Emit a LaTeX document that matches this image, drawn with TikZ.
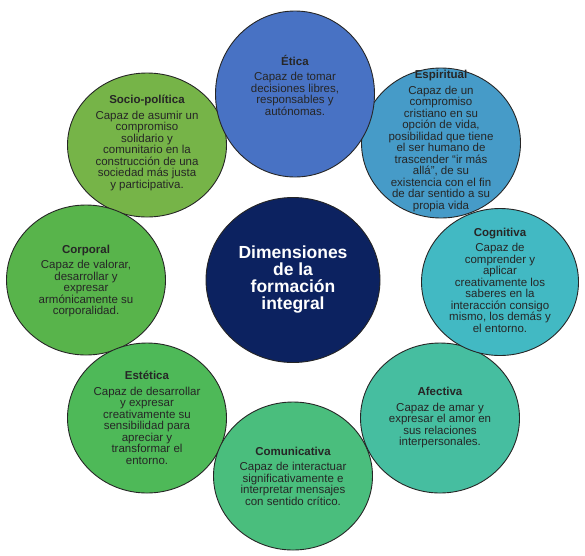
\documentclass[tikz,border=0pt]{standalone}
\usepackage{fontspec}
\setmainfont{Liberation Sans}
\usepackage{xcolor}
\usepackage{tikz}
\usetikzlibrary{shapes.geometric, positioning}

\definecolor{cEtica}{RGB}{72,114,196}
\definecolor{cEspiritual}{RGB}{70,155,200}
\definecolor{cCognitiva}{RGB}{66,185,195}
\definecolor{cAfectiva}{RGB}{70,190,160}
\definecolor{cComunicativa}{RGB}{74,190,125}
\definecolor{cEstetica}{RGB}{78,185,88}
\definecolor{cCorporal}{RGB}{88,180,75}
\definecolor{cSocio}{RGB}{118,180,72}
\definecolor{cCore}{RGB}{12,34,96}

\begin{document}
\begin{tikzpicture}[
    x=1pt, y=-1pt,
    font=\fontsize{11.5}{11.5}\selectfont,
    dim/.style={draw=black!85, line width=0.9pt, ellipse, inner sep=0pt, minimum width=159pt, minimum height=150pt},
    txt/.style={align=center, inner sep=0pt, text=black!85},
    core/.style={draw=black!85, line width=0.9pt, ellipse, fill=cCore, minimum width=174pt, minimum height=165pt, inner sep=0pt, align=center, text=white, font=\fontsize{17.5}{17}\selectfont\bfseries}
  ]
  \useasboundingbox (0,0) rectangle (585,555);

  % centre
  \node (core) [core] at (293,280) {Dimensiones\\ de la\\ formación\\ integral};

  % ring, drawn anticlockwise so that the upper ones lie on top
  \node (socio) [dim, fill=cSocio, minimum height=144pt] at (147,145) {};
  \node (corporal) [dim, fill=cCorporal] at (86,280) {};
  \node (estetica) [dim, fill=cEstetica] at (147,418) {};
  \node (comunicativa) [dim, fill=cComunicativa, minimum height=148pt] at (293,476) {};
  \node (afectiva) [dim, fill=cAfectiva] at (440,418) {};
  \node (cognitiva) [dim, fill=cCognitiva, minimum width=157pt, minimum height=147pt] at (500,282) {};
  \node (espiritual) [dim, fill=cEspiritual] at (441,143) {};
  \node (etica) [dim, fill=cEtica, minimum height=166pt] at (295,94) {};

  % texts
  \node (sociotxt) [txt] at (147,143) {\textbf{Socio-política}\\[4pt] Capaz de asumir un\\ compromiso\\ solidario y\\ comunitario en la\\ construcción de una\\ sociedad más justa\\ y participativa.};
  \node (corporaltxt) [txt] at (86,281) {\textbf{Corporal}\\[4pt] Capaz de valorar,\\ desarrollar y\\ expresar\\ armónicamente su\\ corporalidad.};
  \node (esteticatxt) [txt] at (147,418) {\textbf{Estética}\\[4pt] Capaz de desarrollar\\ y expresar\\ creativamente su\\ sensibilidad para\\ apreciar y\\ transformar el\\ entorno.};
  \node (comunicativatxt) [txt] at (293,476) {\textbf{Comunicativa}\\[4pt] Capaz de interactuar\\ significativamente e\\ interpretar mensajes\\ con sentido crítico.};
  \node (afectivatxt) [txt] at (440,418) {\textbf{Afectiva}\\[4pt] Capaz de amar y\\ expresar el amor en\\ sus relaciones\\ interpersonales.};
  \node (cognitivatxt) [txt] at (500,280) {\textbf{Cognitiva}\\[4pt] Capaz de\\ comprender y\\ aplicar\\ creativamente los\\ saberes en la\\ interacción consigo\\ mismo, los demás y\\ el entorno.};
  \node (espiritualtxt) [txt] at (441,141) {\textbf{Espiritual}\\[4pt] Capaz de un\\ compromiso\\ cristiano en su\\ opción de vida,\\ posibilidad que tiene\\ el ser humano de\\ trascender “ir más\\ allá”, de su\\ existencia con el fin\\ de dar sentido a su\\ propia vida};
  \node (eticatxt) [txt] at (295,85) {\textbf{Ética}\\[4pt] Capaz de tomar\\ decisiones libres,\\ responsables y\\ autónomas.};
\end{tikzpicture}
\end{document}
